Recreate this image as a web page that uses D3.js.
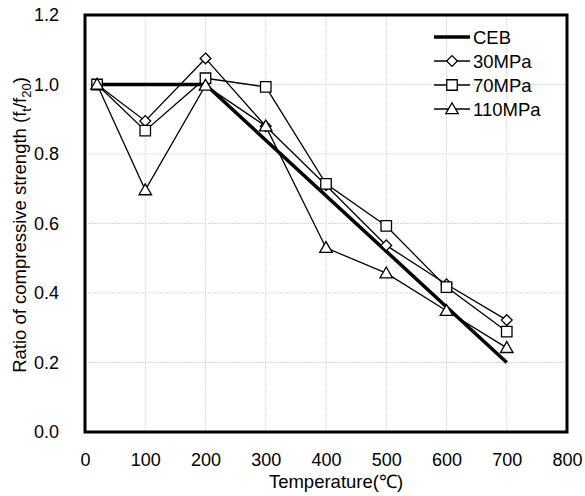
<!DOCTYPE html>
<html lang="en">
<head>
    <meta charset="utf-8" />
    <title>Ratio of compressive strength</title>
    <style type="text/css">
        body { margin: 0; background: #fff; }
        text { font-family: "Liberation Sans", Arial, sans-serif; fill: #000; }
        .grid line { stroke: #d9d9d9; stroke-width: 1px; stroke-dasharray: 2,1; }
        .series { fill: none; stroke: #000; stroke-width: 1.3px; }
    </style>
    <script type="text/javascript" src="https://cdn.jsdelivr.net/npm/d3@7/dist/d3.min.js"></script>
</head>
<body>
    <div id="chart"></div>
    <script type="text/javascript">
        const temps = [20, 100, 200, 300, 400, 500, 600, 700];
        const cebTemps = [20, 200, 700];
        const cebValues = [1.0, 1.0, 0.2];
        const mpa30 = [1.0, 0.895, 1.075, 0.88, 0.71, 0.537, 0.425, 0.322];
        const mpa70 = [1.0, 0.867, 1.018, 0.993, 0.714, 0.593, 0.417, 0.289];
        const mpa110 = [1.0, 0.696, 0.997, 0.88, 0.53, 0.457, 0.349, 0.242];
        const seriesNames = ['CEB', '30MPa', '70MPa', '110MPa'];
        const xTicks = [0, 100, 200, 300, 400, 500, 600, 700, 800];
        const yTicks = [0, 0.2, 0.4, 0.6, 0.8, 1.0, 1.2];

        const margin = {top: 15, right: 18, bottom: 64, left: 85},
            W = 585, H = 496,
            width = W - margin.left - margin.right,
            height = H - margin.top - margin.bottom;

        const x = d3.scaleLinear().domain([0, 800]).range([0, width]);
        const y = d3.scaleLinear().domain([0, 1.2]).range([height, 0]);

        const svg = d3.select('#chart').append('svg')
            .attr('width', W)
            .attr('height', H);
        const g = svg.append('g')
            .attr('transform', 'translate(' + margin.left + ',' + margin.top + ')');

        // grid
        const grid = g.append('g').attr('class', 'grid');
        grid.selectAll('.vx').data(xTicks.slice(1, -1)).enter().append('line')
            .attr('x1', d => x(d)).attr('x2', d => x(d))
            .attr('y1', 0).attr('y2', height);
        grid.selectAll('.hy').data(yTicks.slice(1, -1)).enter().append('line')
            .attr('x1', 0).attr('x2', width)
            .attr('y1', d => y(d)).attr('y2', d => y(d));

        // axes (labels only)
        const xAxis = g.append('g')
            .attr('transform', 'translate(0,' + height + ')')
            .call(d3.axisBottom(x).tickValues(xTicks).tickSize(0).tickPadding(21).tickFormat(d3.format('d')));
        const yAxis = g.append('g')
            .call(d3.axisLeft(y).tickValues(yTicks).tickSize(0).tickPadding(26).tickFormat(d3.format('.1f')));
        [xAxis, yAxis].forEach(a => {
            a.select('.domain').remove();
            a.selectAll('text').style('font-size', '18px').style('font-family', '"Liberation Sans", Arial, sans-serif');
        });

        // CEB
        const cebData = cebTemps.map((t, i) => ({t: t, v: cebValues[i]}));
        g.append('path')
            .datum(cebData)
            .attr('fill', 'none')
            .attr('stroke', '#000')
            .attr('stroke-width', 3.5)
            .attr('d', d3.line().x(d => x(d.t)).y(d => y(d.v)));

        const line = d3.line().x(d => x(d.t)).y(d => y(d.v));
        // square rotated 45 degrees for the diamond, like the spreadsheet marker
        const squareDiamond = {
            draw(ctx, size) {
                const r = Math.sqrt(size / 2);
                ctx.moveTo(0, -r); ctx.lineTo(r, 0); ctx.lineTo(0, r); ctx.lineTo(-r, 0); ctx.closePath();
            }
        };
        const symbols = [squareDiamond, d3.symbolSquare, d3.symbolTriangle];
        const symSizes = [58, 110, 68];
        const allSeries = [mpa30, mpa70, mpa110];

        function drawMarker(sel, k) {
            sel.append('path')
                .attr('d', d3.symbol().type(symbols[k]).size(symSizes[k]))
                .attr('fill', '#fff')
                .attr('stroke', '#000')
                .attr('stroke-width', 1.3);
        }

        allSeries.forEach((vals, k) => {
            const data = temps.map((t, i) => ({t: t, v: vals[i]}));
            g.append('path').datum(data).attr('class', 'series').attr('d', line);
            g.selectAll('.m' + k).data(data).enter().append('g')
                .attr('class', 'm' + k)
                .attr('transform', d => 'translate(' + x(d.t) + ',' + (y(d.v) + (k === 2 ? 1 : 0)) + ')')
                .each(function () { drawMarker(d3.select(this), k); });
        });

        // frame
        g.append('rect')
            .attr('width', width).attr('height', height)
            .attr('fill', 'none').attr('stroke', '#000').attr('stroke-width', 3);

        // legend
        const legend = g.selectAll('.legend').data(seriesNames).enter().append('g')
            .attr('class', 'legend')
            .attr('transform', (d, i) => 'translate(' + (434 - margin.left) + ',' + (37 - margin.top + i * 24) + ')');
        legend.append('line')
            .attr('x1', 0).attr('x2', 36)
            .attr('stroke', '#000')
            .attr('stroke-width', (d, i) => i === 0 ? 3.5 : 1.3);
        legend.each(function (d, i) {
            if (i > 0) {
                const m = d3.select(this).append('g').attr('transform', 'translate(18,' + (i === 3 ? 1 : 0) + ')');
                drawMarker(m, i - 1);
            }
        });
        legend.append('text')
            .attr('x', 39).attr('y', 6.5)
            .style('font-size', '18.5px')
            .text(d => d);

        // axis titles
        svg.append('text')
            .attr('x', margin.left + width / 2 + 10)
            .attr('y', 488)
            .attr('text-anchor', 'middle')
            .style('font-size', '18.5px')
            .text('Temperature(℃)');

        const yt = svg.append('text')
            .attr('transform', 'translate(26,225) rotate(-90)')
            .attr('text-anchor', 'middle')
            .style('font-size', '18.5px');
        yt.append('tspan').text('Ratio of compressive strength (f');
        yt.append('tspan').attr('dy', 5).style('font-size', '13px').text('t');
        yt.append('tspan').attr('dy', -5).text('/f');
        yt.append('tspan').attr('dy', 5).style('font-size', '13px').text('20');
        yt.append('tspan').attr('dy', -5).text(')');
    </script>
</body>
</html>
